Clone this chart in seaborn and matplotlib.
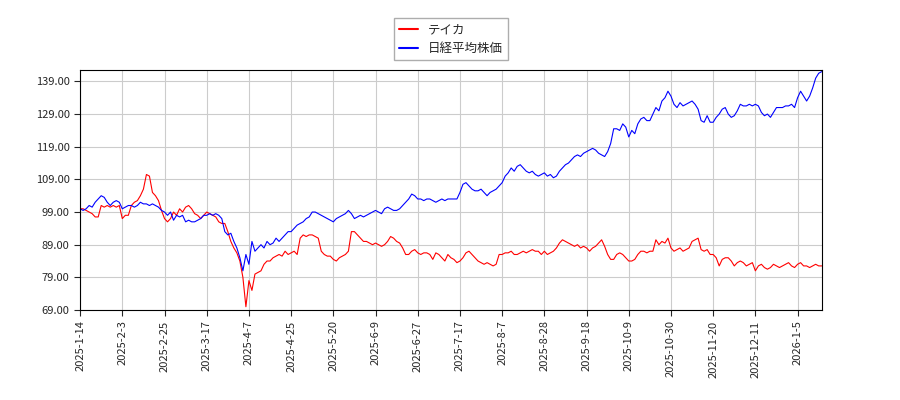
import matplotlib
matplotlib.use("Agg")
import matplotlib.pyplot as plt
import seaborn as sns
import pandas as pd

tick_labels = ["2025-1-14","2025-2-3","2025-2-25","2025-3-17","2025-4-7","2025-4-25","2025-5-20",
               "2025-6-9","2025-6-27","2025-7-17","2025-8-7","2025-8-28","2025-9-18","2025-10-9",
               "2025-10-30","2025-11-20","2025-12-11","2026-1-5"]

nikkei = [100,99.5,100,101,100.5,102,103,104,103.5,102,101,102,102.5,102,
 100,100.5,101,101,100.5,101,102,101.5,101.5,101,101.5,101,100.5,99.5,
 99,98,99,96.5,98,97.5,98,96,96.5,96,96,96.5,97,98,
 98,98.5,98,98.5,98,97,93,92,92.5,90,88,85,81,86,
 83,90,87,88,89,88,90,89,89.5,91,90,91,92,93,
 93,94,95,95.5,96,97,97.5,99,99,98.5,98,97.5,97,96.5,
 96,97,97.5,98,98.5,99.5,98.5,97,97.5,98,97.5,98,98.5,99,
 99.5,99,98.5,100,100.5,100,99.5,99.5,100,101,102,103,104.5,104,
 103,103,102.5,103,103,102.5,102,102.5,103,102.5,103,103,103,103,
 105,107.5,108,107,106,105.5,105.5,106,105,104,105,105.5,106,107,
 108,110,111,112.5,111.5,113,113.5,112.5,111.5,111,111.5,110.5,110,110.5,
 111,110,110.5,109.5,110,111.5,112.5,113.5,114,115,116,116.5,116,117,
 117.5,118,118.5,118,117,116.5,116,117.5,120,124.5,124.5,124,126,125,
 122,124,123,126,127.5,128,127,127,129,131,130,133,134,136,
 134.5,132,131,132.5,131.5,132,132.5,133,132,130.5,127,126.5,128.5,126.5,
 126.5,128,129,130.5,131,129,128,128.5,130,132,131.5,131.5,132,131.5,
 132,131.5,129.5,128.5,129,128,129.5,131,131,131,131.5,131.5,132,131,
 134,136,134.5,133,134.5,137,140,141.5,142]

teika = [100,100,99.5,99,98.5,97.5,97.5,101,100.5,101,100.5,101,100.5,101,
 97,98,98,101,102,102.5,104,106,110.5,110,105,104,102.5,99.5,
 97,96,97,99,98,100,99,100.5,101,100,98.5,98,97,98,
 99,98.5,98,97.5,96,95.5,95.5,93,90,88,86.5,84,79,70,
 78,75,80,80.5,81,83,84,84,85,85.5,86,85.5,87,86,
 86.5,87,86,91,92,91.5,92,92,91.5,91,87,86,85.5,85.5,
 84.5,84,85,85.5,86,87,93,93,92,91,90,90,89.5,89,
 89.5,89,88.5,89,90,91.5,91,90,89.5,88,86,86,87,87.5,
 86.5,86,86.5,86.5,86,84.5,86.5,86,85,84,86,85,84.5,83.5,
 84,85,86.5,87,86,85,84,83.5,83,83.5,83,82.5,83,86,
 86,86.5,86.5,87,86,86,86.5,87,86.5,87,87.5,87,87,86,
 87,86,86.5,87,88,89.5,90.5,90,89.5,89,88.5,89,88,88.5,
 88,87,88,88.5,89.5,90.5,88.5,86,84.5,84.5,86,86.5,86,85,
 84,84,84.5,86,87,87,86.5,87,87,90.5,89,90,89.5,91,
 88,87,87.5,88,87,87.5,88,90,90.5,91,87.5,87,87.5,86,
 86,85,82.5,84.5,85,85,84,82.5,83.5,84,83.5,82.5,83,83.5,
 81,82.5,83,82,81.5,82,83,82.5,82,82.5,83,83.5,82.5,82,
 83,83.5,82.5,82.5,82,82.5,83,82.5,82.5]

sns.set_style("white")
plt.rcParams['font.family'] = ['Noto Sans CJK JP', 'DejaVu Sans']

fig = plt.figure(figsize=(9, 4), dpi=100)
ax = fig.add_axes([0.089, 0.225, 0.824, 0.6])
df_t = pd.DataFrame({"x": range(len(teika)), "y": teika})
df_n = pd.DataFrame({"x": range(len(nikkei)), "y": nikkei})
sns.lineplot(data=df_t, x="x", y="y", ax=ax, color="red", lw=0.8, label="テイカ")
sns.lineplot(data=df_n, x="x", y="y", ax=ax, color="blue", lw=0.8, label="日経平均株価")

ax.set_xlim(0, len(nikkei) - 1)
ax.set_ylim(69, 142.5)
yt = [69 + 10 * i for i in range(8)]
ax.set_yticks(yt)
ax.set_yticklabels([f"{v:.2f}" for v in yt], fontsize=8)
ax.set_xticks([14 * i for i in range(len(tick_labels))])
ax.set_xticklabels(tick_labels, rotation=90, fontsize=8)
ax.set_xlabel("")
ax.set_ylabel("")
ax.grid(True, color="#cccccc", lw=0.8)
ax.tick_params(axis="both", length=4, direction="out", bottom=True, left=True)
for s in ax.spines.values():
    s.set_color("black")
    s.set_linewidth(0.8)
leg = ax.legend(loc="lower center", bbox_to_anchor=(0.5, 1.03), frameon=True, fontsize=9,
                fancybox=False, edgecolor="#999999", handlelength=1.5, borderaxespad=0.2)
for h in leg.get_lines():
    h.set_linewidth(1.5)
fig.savefig("out.png", dpi=100)
